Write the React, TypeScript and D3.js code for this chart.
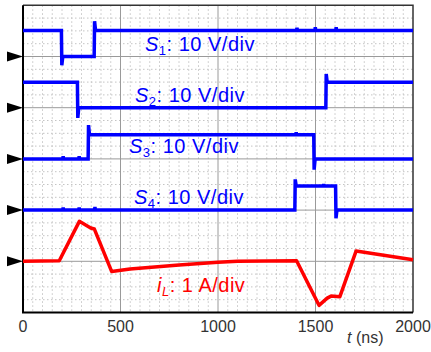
import React, { useRef, useEffect } from "react";
import * as d3 from "d3";

// time axis (ns)
const xTicks = [0, 500, 1000, 1500, 2000];

// gate signals, volts (10 V/div)
const s1Time = [0, 197, 199, 204, 365, 367, 372, 1403, 1405, 1407, 1497, 1499, 1501, 1604, 1606, 1608, 2000];
const s1Volt = [5.1, 5.1, -1.7, 0, 0, 6.9, 5.1, 5.1, 5.6, 5.1, 5.1, 5.7, 5.1, 5.1, 5.7, 5.1, 5.1];

const s2Time = [0, 279, 281, 286, 1553, 1555, 1560, 2000];
const s2Volt = [4.95, 4.95, -2.0, 0, 0, 6.6, 4.95, 4.95];

const s3Time = [0, 204, 206, 208, 286, 288, 290, 334, 336, 341, 1399, 1401, 1403, 1491, 1493, 1498, 2000];
const s3Volt = [0, 0, 0.5, 0, 0, 0.5, 0, 0, 6.6, 4.7, 4.7, 5.2, 4.7, 4.7, -2.1, 0, 0];

const s4Time = [0, 204, 206, 208, 286, 288, 290, 367, 369, 371, 1394, 1396, 1401, 1540, 1542, 1544, 1603, 1605, 1610, 2000];
const s4Volt = [0, 0, 0.5, 0, 0, 0.5, 0, 0, 0.6, 0, 0, 6.0, 4.7, 4.7, 5.1, 4.7, 4.7, -1.6, 0, 0];

// inductor current, amps (1 A/div)
const iLTime = [0, 186, 289, 347, 366, 455, 549, 800, 1000, 1100, 1403, 1518, 1560, 1580, 1625, 1708, 2000];
const iLAmp = [0, 0.01, 0.78, 0.65, 0.63, -0.2, -0.15, -0.07, -0.02, 0, 0.01, -0.86, -0.72, -0.68, -0.69, 0.2, 0.03];

const labels = ["S", "S", "S", "S"];
const labelSubs = ["1", "2", "3", "4"];
const labelX = [145, 135, 129, 134];

const App = () => {
  const svgRef = useRef<SVGSVGElement>(null);
  const W = 431;
  const H = 352;

  useEffect(() => {
    const svg = d3.select(svgRef.current);
    svg.selectAll("*").remove();

    const x = d3.scaleLinear().domain([0, 2000]).range([23, 413]);
    const y = d3.scaleLinear().domain([0, 6]).range([312.5, 5.3]);

    const grid = svg.append("g");
    // minor grid
    grid
      .selectAll(".vminor")
      .data(d3.range(50, 2000, 50).filter((t) => t % 500 !== 0))
      .join("line")
      .attr("x1", (d) => x(d))
      .attr("x2", (d) => x(d))
      .attr("y1", y(6))
      .attr("y2", y(0))
      .attr("stroke", "#c4c4c4")
      .attr("stroke-width", 1)
      .attr("stroke-dasharray", "1.5,2.5");
    grid
      .selectAll(".hminor")
      .data(d3.range(0.25, 6, 0.25).filter((v) => v % 1 !== 0))
      .join("line")
      .attr("x1", x(0))
      .attr("x2", x(2000))
      .attr("y1", (d) => y(d))
      .attr("y2", (d) => y(d))
      .attr("stroke", "#c4c4c4")
      .attr("stroke-width", 1)
      .attr("stroke-dasharray", "1.5,2.5");
    // major grid
    grid
      .selectAll(".vmajor")
      .data([500, 1000, 1500])
      .join("line")
      .attr("x1", (d) => x(d))
      .attr("x2", (d) => x(d))
      .attr("y1", y(6))
      .attr("y2", y(0))
      .attr("stroke", "#9a9a9a")
      .attr("stroke-width", 1);
    grid
      .selectAll(".hmajor")
      .data([1, 2, 3, 4, 5])
      .join("line")
      .attr("x1", x(0))
      .attr("x2", x(2000))
      .attr("y1", (d) => y(d))
      .attr("y2", (d) => y(d))
      .attr("stroke", "#9a9a9a")
      .attr("stroke-width", 1);

    // frame
    svg
      .append("path")
      .attr("d", `M${x(0)},${y(6)}H${x(2000)}V${y(0)}`)
      .attr("fill", "none")
      .attr("stroke", "#333")
      .attr("stroke-width", 1.5);
    svg
      .append("path")
      .attr("d", `M${x(0)},${y(6)}V${y(0)}H${x(2000)}`)
      .attr("fill", "none")
      .attr("stroke", "#000")
      .attr("stroke-width", 2);

    // traces
    const line = d3
      .line<[number, number]>()
      .x((d) => x(d[0]))
      .y((d) => y(d[1]));

    const gates = [
      [s1Time, s1Volt, 5],
      [s2Time, s2Volt, 4],
      [s3Time, s3Volt, 3],
      [s4Time, s4Volt, 2],
    ] as [number[], number[], number][];

    gates.forEach(([ts, vs, ground]) => {
      svg
        .append("path")
        .datum(ts.map((t, i) => [t, ground + vs[i] / 10] as [number, number]))
        .attr("d", line)
        .attr("fill", "none")
        .attr("stroke", "#0000ff")
        .attr("stroke-width", 3.5)
        .attr("stroke-linejoin", "miter");
    });

    svg
      .append("path")
      .datum(iLTime.map((t, i) => [t, 1 + iLAmp[i]] as [number, number]))
      .attr("d", line)
      .attr("fill", "none")
      .attr("stroke", "#ff0000")
      .attr("stroke-width", 3.5)
      .attr("stroke-linejoin", "round");

    // ground markers
    svg
      .selectAll(".marker")
      .data([5, 4, 3, 2, 1])
      .join("path")
      .attr("d", (d) => `M7,${y(d) - 5}L23,${y(d)}L7,${y(d) + 5}Z`)
      .attr("fill", "#000");

    // channel labels
    labels.forEach((s, i) => {
      const t = svg
        .append("text")
        .attr("x", labelX[i])
        .attr("y", y(5 - i) - 6)
        .attr("fill", "#0000ff")
        .attr("font-family", "Liberation Sans, Arial, sans-serif")
        .attr("font-size", 20)
        .attr("letter-spacing", 0.5);
      t.append("tspan").attr("font-style", "italic").text(s);
      t.append("tspan").attr("font-size", 13).attr("dy", 4).text(labelSubs[i]);
      t.append("tspan").attr("dy", -4).text(": 10 V/div");
    });

    const il = svg
      .append("text")
      .attr("x", 157)
      .attr("y", 292)
      .attr("fill", "#ff0000")
      .attr("font-family", "Liberation Sans, Arial, sans-serif")
      .attr("font-size", 20)
      .attr("letter-spacing", 0.5);
    il.append("tspan").attr("font-style", "italic").text("i");
    il.append("tspan").attr("font-style", "italic").attr("font-size", 13).attr("dy", 4).text("L");
    il.append("tspan").attr("dy", -4).text(": 1 A/div");

    // x tick labels
    svg
      .selectAll(".tick")
      .data(xTicks)
      .join("text")
      .attr("x", (d) => x(d))
      .attr("y", 332)
      .attr("text-anchor", "middle")
      .attr("fill", "#333")
      .attr("font-family", "Liberation Sans, Arial, sans-serif")
      .attr("font-size", 16)
      .text((d) => d);

    const tl = svg
      .append("text")
      .attr("x", 347)
      .attr("y", 343)
      .attr("fill", "#333")
      .attr("font-family", "Liberation Sans, Arial, sans-serif")
      .attr("font-size", 16);
    tl.append("tspan").attr("font-style", "italic").text("t");
    tl.append("tspan").text(" (ns)");
  }, []);

  return (
    <div style={{ position: "absolute", left: 0, top: 0, background: "#fff" }}>
      <svg ref={svgRef} width={W} height={H} style={{ display: "block" }}></svg>
    </div>
  );
};

export default App;
